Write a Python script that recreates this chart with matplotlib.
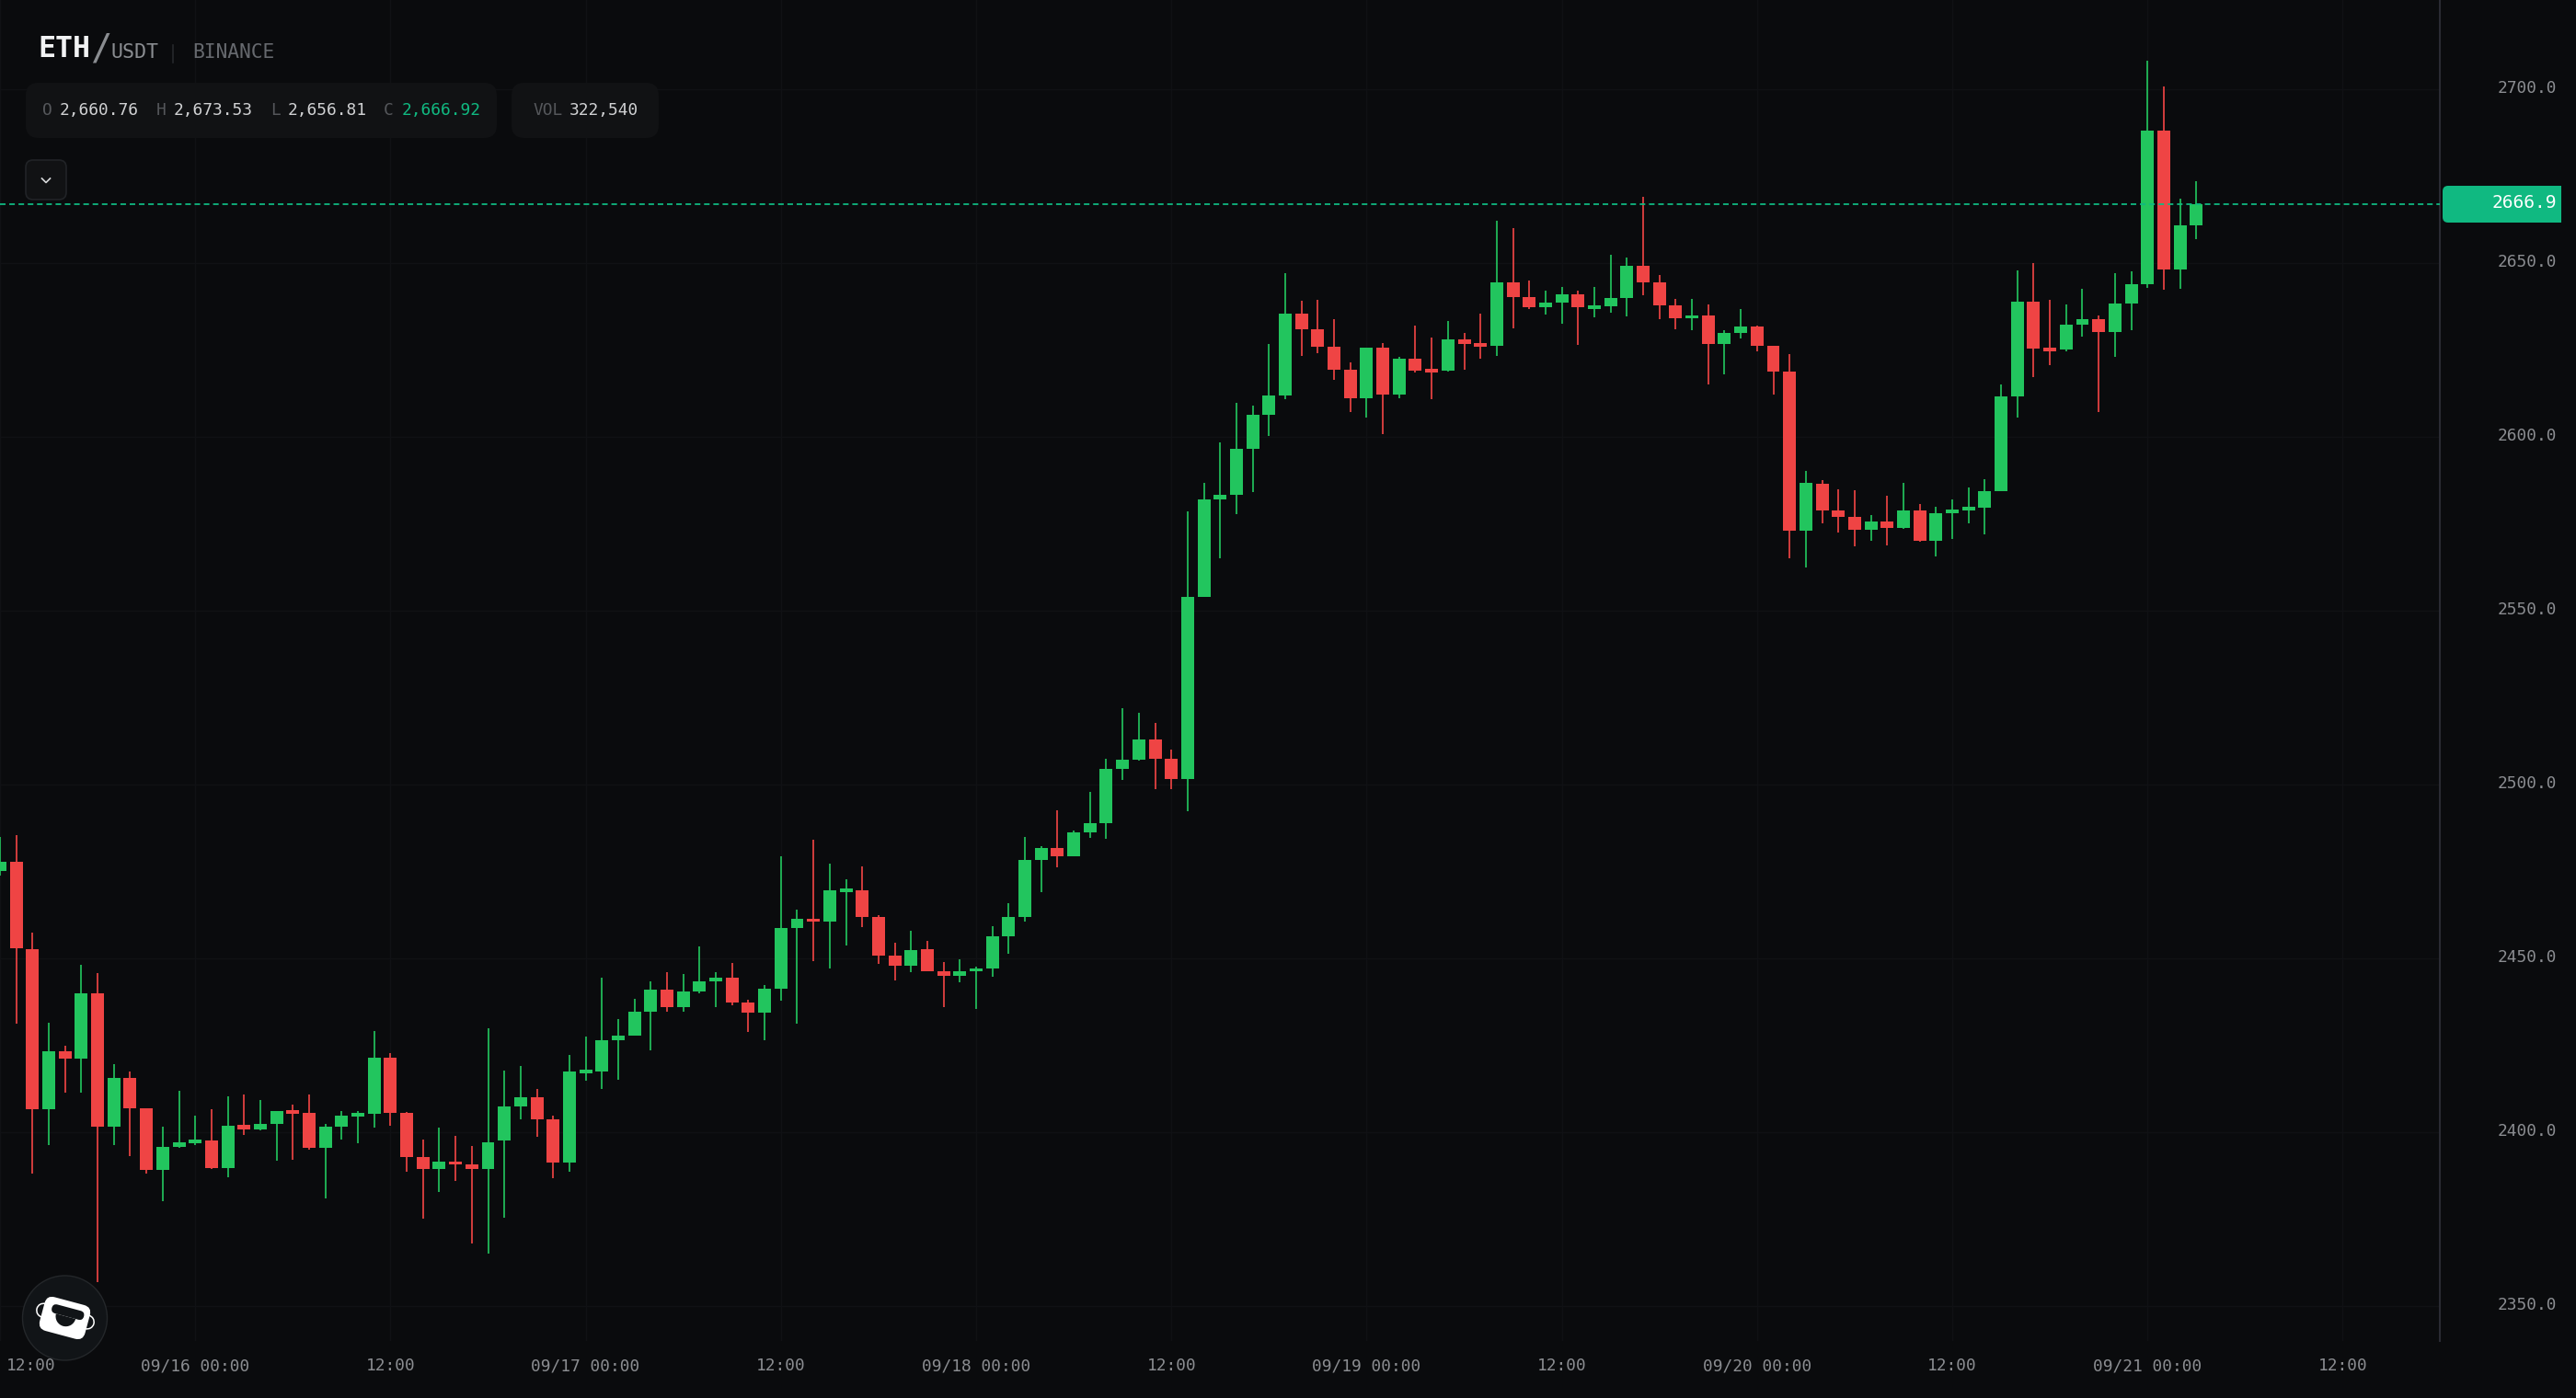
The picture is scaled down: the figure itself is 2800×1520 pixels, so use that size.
import matplotlib
matplotlib.use('Agg')
import matplotlib.pyplot as plt
from matplotlib.patches import Circle, FancyBboxPatch, Rectangle, Wedge
from matplotlib.transforms import Affine2D, ScaledTranslation
import numpy as np

# hourly candles, first one is 09/15 12:00
opens = [2475.1,2477.7,2452.7,2406.7,2423.3,2421.2,2439.9,2401.7,2415.6,2407.0,
         2389.2,2395.8,2396.9,2397.7,2389.7,2402.0,2400.9,2402.4,2406.3,2405.6,
         2395.5,2401.6,2404.5,2405.3,2421.5,2405.6,2392.9,2389.5,2391.5,2390.7,
         2389.5,2397.5,2407.4,2410.1,2403.7,2391.3,2417.0,2417.5,2426.5,2427.8,
         2434.7,2441.0,2436.0,2440.5,2443.4,2444.5,2437.3,2434.4,2441.3,2458.7,
         2461.3,2460.6,2469.0,2469.6,2461.9,2450.8,2447.9,2452.6,2446.3,2444.9,
         2446.3,2447.1,2456.3,2461.9,2478.3,2481.7,2479.4,2486.2,2488.9,2504.5,
         2507.2,2513.0,2507.4,2501.6,2554.0,2582.0,2583.4,2596.6,2606.4,2611.9,
         2635.4,2631.0,2625.9,2619.3,2611.1,2625.7,2612.2,2622.5,2619.6,2619.1,
         2628.1,2627.0,2626.2,2644.4,2640.2,2637.3,2638.6,2641.0,2636.8,2637.6,
         2639.9,2649.2,2644.4,2637.8,2634.1,2634.9,2626.7,2629.9,2631.7,2626.2,
         2618.8,2573.0,2586.5,2578.8,2577.0,2573.3,2575.7,2573.8,2578.8,2570.1,
         2578.0,2578.8,2579.6,2584.4,2611.6,2638.8,2625.7,2625.2,2632.2,2633.9,
         2630.1,2638.3,2643.9,2688.1,2648.1,2660.76]
highs = [2484.9,2485.4,2457.3,2431.4,2424.9,2448.1,2445.9,2419.5,2417.4,2407.0,
         2401.6,2411.9,2404.8,2406.6,2410.3,2410.9,2409.2,2406.1,2408.0,2410.9,
         2402.4,2406.1,2406.1,2429.1,2422.8,2405.7,2397.9,2401.3,2398.9,2396.0,
         2429.9,2417.7,2419.1,2412.5,2404.8,2422.2,2427.5,2444.5,2432.5,2438.4,
         2443.4,2446.0,2445.5,2453.5,2446.0,2448.7,2438.1,2442.3,2479.4,2464.0,
         2484.1,2477.2,2472.7,2476.4,2462.4,2454.5,2457.9,2455.0,2448.9,2449.7,
         2447.6,2459.2,2465.9,2484.9,2482.3,2492.6,2486.8,2497.9,2507.4,2522.0,
         2520.6,2517.7,2510.1,2578.6,2586.8,2598.4,2609.8,2609.0,2626.7,2647.1,
         2639.2,2639.4,2633.9,2621.4,2625.7,2627.0,2623.0,2632.0,2628.6,2633.3,
         2629.9,2635.4,2662.2,2660.1,2645.0,2642.1,2643.1,2642.1,2643.1,2652.4,
         2651.6,2669.0,2646.6,2639.7,2639.7,2638.1,2630.7,2636.8,2632.0,2626.2,
         2623.8,2590.2,2587.6,2584.9,2584.7,2577.5,2583.1,2586.8,2580.7,2579.9,
         2582.0,2585.5,2587.7,2615.0,2647.8,2650.0,2639.4,2638.1,2642.6,2634.8,
         2647.1,2647.6,2708.2,2700.8,2668.4,2673.53]
lows = [2473.7,2431.1,2388.1,2396.3,2411.5,2411.5,2356.9,2396.3,2393.1,2388.1,
        2380.2,2395.6,2396.3,2389.3,2387.1,2399.1,2400.6,2391.8,2392.1,2395.1,
        2381.0,2397.9,2396.9,2401.3,2401.9,2388.6,2375.2,2382.8,2386.0,2368.0,
        2365.2,2375.4,2403.7,2398.7,2386.8,2388.6,2414.8,2412.5,2415.1,2427.8,
        2423.5,2434.7,2434.7,2440.0,2436.0,2436.5,2428.8,2426.5,2437.8,2431.2,
        2449.2,2447.1,2453.7,2459.0,2448.4,2443.6,2446.0,2446.3,2436.0,2443.1,
        2435.4,2444.7,2451.3,2460.6,2469.0,2476.2,2479.4,2484.7,2484.4,2501.3,
        2506.9,2498.7,2498.7,2492.3,2554.0,2565.1,2577.8,2584.1,2600.3,2610.9,
        2623.3,2624.1,2616.4,2607.1,2605.6,2600.8,2611.1,2618.5,2610.9,2618.8,
        2619.3,2622.5,2623.3,2631.2,2636.8,2635.2,2632.5,2626.5,2634.4,2635.7,
        2634.7,2640.7,2633.9,2631.0,2630.7,2615.1,2618.0,2628.3,2624.6,2612.2,
        2565.1,2562.4,2575.1,2572.5,2568.5,2570.1,2568.8,2573.5,2569.8,2565.6,
        2570.6,2575.1,2571.9,2584.4,2605.6,2617.2,2620.6,2624.6,2628.8,2607.1,
        2623.0,2630.6,2642.9,2642.3,2642.5,2656.81]
closes = [2477.7,2452.8,2406.7,2423.3,2421.2,2439.9,2401.7,2415.6,2407.0,2389.2,
          2395.8,2397.1,2397.9,2389.7,2401.9,2400.9,2402.4,2406.1,2405.3,2395.5,
          2401.6,2404.8,2405.6,2421.5,2405.6,2392.9,2389.5,2391.5,2390.7,2389.5,
          2397.1,2407.4,2410.1,2403.7,2391.3,2417.5,2418.0,2426.5,2427.8,2434.7,
          2441.0,2436.0,2440.5,2443.4,2444.5,2437.3,2434.4,2441.3,2458.8,2461.3,
          2460.6,2469.6,2470.1,2461.9,2450.8,2447.9,2452.4,2446.3,2444.9,2446.3,
          2447.1,2456.3,2461.9,2478.3,2481.7,2479.4,2486.2,2488.9,2504.5,2507.2,
          2513.0,2507.4,2501.6,2554.0,2582.0,2583.4,2596.6,2606.4,2611.9,2635.4,
          2631.0,2625.9,2619.3,2611.1,2625.7,2612.2,2622.5,2619.1,2618.5,2628.1,
          2626.7,2625.9,2644.4,2640.2,2637.3,2638.6,2641.0,2637.3,2637.8,2639.9,
          2649.2,2644.4,2637.8,2634.1,2634.9,2626.7,2629.9,2631.7,2626.2,2618.8,
          2573.0,2586.8,2578.8,2577.0,2573.3,2575.7,2573.8,2578.8,2570.1,2578.0,
          2579.2,2580.0,2584.4,2611.6,2638.8,2625.4,2624.6,2632.2,2633.9,2630.1,
          2638.3,2643.9,2688.1,2648.1,2660.8,2666.92]

last_price = 2666.92
price_ticks = [2350, 2400, 2450, 2500, 2550, 2600, 2650, 2700]
time_ticks = [0, 12, 24, 36, 48, 60, 72, 84, 96, 108, 120, 132, 144]
time_labels = ['12:00', '09/16 00:00', '12:00', '09/17 00:00', '12:00', '09/18 00:00', '12:00',
               '09/19 00:00', '12:00', '09/20 00:00', '12:00', '09/21 00:00', '12:00']

BG = '#0a0b0d'
GRID = '#101114'
UP = '#22c55e'
DOWN = '#ef4444'
LAST = '#10b981'
MONO = 'DejaVu Sans Mono'

W, H = 2800, 1520
fig = plt.figure(figsize=(W / 100, H / 100), dpi=100, facecolor=BG)

# main chart, all the way to the left and top edge
ax = fig.add_axes([0, 1 - 1458 / H, 2652 / W, 1458 / H], facecolor=BG)
ax.set_xlim(0, 149.97)
ax.set_ylim(2339.95, 2725.66)

x = np.arange(len(opens))
o = np.array(opens)
c = np.array(closes)
colors = [UP if a >= b else DOWN for a, b in zip(c, o)]

ax.vlines(x, lows, highs, colors=colors, linewidth=1.45, alpha=0.85, zorder=2)
ax.bar(x, np.abs(c - o), bottom=np.minimum(o, c), width=0.79, color=colors, linewidth=0, zorder=3)

ax.axhline(last_price, color=LAST, linewidth=1.45, alpha=0.9, dashes=(3, 2), zorder=4)

ax.set_yticks(price_ticks)
ax.set_yticklabels([f'{p:.1f}' for p in price_ticks])
ax.set_xticks(time_ticks)
ax.set_xticklabels(time_labels)
ax.grid(True, color=GRID, linewidth=1.0, zorder=0)
ax.set_axisbelow(True)
ax.tick_params(axis='both', length=0, labelcolor='#8b8d91', labelsize=12.9)
ax.tick_params(axis='y', left=False, right=False, labelleft=False, labelright=True, pad=91.4)
ax.tick_params(axis='x', pad=13)
up_shift = ScaledTranslation(0, 3 / 100, fig.dpi_scale_trans)
for lab in ax.get_yticklabels():
    lab.set_ha('right')
    lab.set_family(MONO)
    lab.set_transform(lab.get_transform() + up_shift)
for lab in ax.get_xticklabels():
    lab.set_family(MONO)
# first label is pushed inside the figure
first = ax.get_xticklabels()[0]
first.set_ha('left')
first.set_transform(first.get_transform() + ScaledTranslation(7 / 100, 0, fig.dpi_scale_trans))

for side in ['top', 'left', 'bottom']:
    ax.spines[side].set_visible(False)
ax.spines['right'].set_color('#2a2b33')
ax.spines['right'].set_linewidth(1.5)

# overlay in image pixels for the header, price tag and logo
ui = fig.add_axes([0, 0, 1, 1], facecolor='none', zorder=5)
ui.set_xlim(0, W)
ui.set_ylim(H, 0)
ui.axis('off')


def label(px, py, s, color, size=12.9, family=MONO, **kw):
    ui.text(px, py, s, color=color, fontsize=size, family=family, va='center', **kw)


def rounded(x0, y0, x1, y1, r, **kw):
    p = FancyBboxPatch((x0 + r, y0 + r), x1 - x0 - 2 * r, y1 - y0 - 2 * r,
                       boxstyle=f'round,pad={r},rounding_size={r}', **kw)
    ui.add_patch(p)
    return p


# header
label(41, 53, 'ETH', '#f2f3f4', size=22.8, weight='bold')
label(98, 54, '/', '#8a8d91', size=28)
label(120, 57, 'USDT', '#8a8d91', size=15.6)
ui.plot([188, 188], [49, 68], color='#26282c', lw=1.2)
label(209, 57, 'BINANCE', '#66696e', size=15.3)

rounded(28, 90, 540, 150, 14, fc='#111214', ec='none')
rounded(556, 90, 716, 150, 14, fc='#111214', ec='none')
rounded(28, 174, 72, 217, 8, fc='#111214', ec='#212327', lw=1.2)
ui.plot([45.5, 50, 54.5], [194, 198.5, 194], color='#d8d9db', lw=1.2)

ROW = 120
VAL = '#d0d1d3'
for px, s, col in [(46, 'O', '#55575b'), (65, '2,660.76', VAL),
                   (170, 'H', '#55575b'), (189, '2,673.53', VAL),
                   (294, 'L', '#55575b'), (313, '2,656.81', VAL),
                   (417, 'C', '#55575b'), (437, '2,666.92', LAST),
                   (579, 'VOL', '#55575b'), (619, '322,540', VAL)]:
    label(px, ROW, s, col)

# last price tag, rounded on the left only
rounded(2655, 202, 2700, 242, 6, fc=LAST, ec='none')
ui.add_patch(Rectangle((2672, 202), 112, 40, fc=LAST, ec='none'))
label(2779, 221, f'{last_price:.1f}', '#ffffff', size=14, ha='right')

# logo
ui.add_patch(Circle((70.5, 1433), 46, fc='#111417', ec='#24272a', lw=1.0))
rot = Affine2D().rotate_deg_around(70.5, 1433, 15) + ui.transData
for cx, cy in [(46, 1431), (95, 1431)]:
    ui.add_patch(Circle((cx, cy), 7.5, fc='none', ec='white', lw=1.1, transform=rot))
rounded(45, 1414, 96, 1452, 9, fc='white', ec='none', transform=rot)
rounded(54, 1421, 90, 1431, 5, fc='#111417', ec='none', transform=rot)
ui.add_patch(Wedge((71, 1431), 11, 0, 180, fc='#111417', ec='none', transform=rot))

fig.savefig('out.png', dpi=100, facecolor=BG)
